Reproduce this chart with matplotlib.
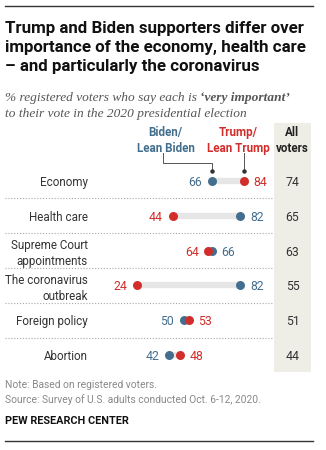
import matplotlib
matplotlib.use('Agg')
import matplotlib.pyplot as plt
import matplotlib.transforms as mtransforms
from matplotlib.lines import Line2D

# data
categories = ['Economy', 'Health care', 'Supreme Court\nappointments',
              'The coronavirus\noutbreak', 'Foreign policy', 'Abortion']
biden = [66, 82, 66, 82, 50, 42]
trump = [84, 44, 64, 24, 53, 48]
all_voters = [74, 65, 63, 55, 51, 44]

BLUE = '#436E8E'
RED = '#D12E2B'
BAR = '#E6E6E6'
BAND = '#EEEDE6'
SANS = 'Roboto'
SERIF = 'Liberation Serif'

W, H = 326, 450
fig = plt.figure(figsize=(W / 100, H / 100), dpi=100)


def fx(px):
    return px / W


def fy(py):
    return 1 - py / H


# main dot plot area
ax = fig.add_axes([fx(94.5), fy(372), fx(272.5) - fx(94.5), fy(123) - fy(372)])
rows = list(range(len(categories)))
ax.set_xlim(0, 100)
ax.set_ylim(5.49, -1.667)
ax.set_frame_on(False)
ax.set_xticks([])
ax.set_yticks(rows, categories)
ax.tick_params(axis='y', length=0, pad=4.7, labelsize=8.4, labelcolor='#333333')
for lab in ax.get_yticklabels():
    lab.set_family(SANS)
    lab.set_linespacing(1.3)

lo = [min(b, t) for b, t in zip(biden, trump)]
hi = [max(b, t) for b, t in zip(biden, trump)]
ax.hlines(rows, lo, hi, color=BAR, lw=4.5, capstyle='butt', zorder=1)
ax.scatter(biden, rows, s=42, color=BLUE, zorder=3, linewidths=0)
ax.scatter(trump, rows, s=42, color=RED, zorder=4, linewidths=0)

for r, b, t in zip(rows, biden, trump):
    for v, c in ((b, BLUE), (t, RED)):
        left = v < (t if c == BLUE else b)
        ax.annotate(str(v), (v, r), xytext=(-7 if left else 7, 0),
                    textcoords='offset points', ha='right' if left else 'left',
                    va='center_baseline', color=c, fontsize=8.8, family=SANS)

# headers with leader lines
ax.text(39.9, -1.17, 'Biden/\nLean Biden', ha='center', va='center', color=BLUE,
        fontsize=8.4, weight='bold', family=SANS, linespacing=1.3)
ax.text(80.6, -1.17, 'Trump/\nLean Trump', ha='center', va='center', color=RED,
        fontsize=8.4, weight='bold', family=SANS, linespacing=1.3)
ax.plot([38.5, 38.5, biden[0], biden[0]], [-0.80, -0.52, -0.52, -0.29],
        color='#555555', lw=0.7, clip_on=False)
ax.plot([trump[0], trump[0]], [-0.80, -0.29], color='#555555', lw=0.7, clip_on=False)
ax.plot([biden[0], trump[0]], [-0.29, -0.29], ls='none', marker='o', ms=2.2,
        color='#333333', clip_on=False)

# dotted row separators
trans = mtransforms.blended_transform_factory(fig.transFigure, ax.transData)
for r in rows[:-1]:
    ax.plot([fx(5), fx(274)], [r + 0.5, r + 0.5], transform=trans, color='#A8A8A8',
            lw=0.8, ls=(0, (1, 1.6)), clip_on=False)

# all voters column
ax2 = fig.add_axes([fx(274), fy(372), fx(311) - fx(274), fy(123) - fy(372)])
ax2.set_facecolor(BAND)
ax2.set_xlim(0, 1)
ax2.set_ylim(5.49, -1.667)
ax2.set_xticks([])
ax2.set_yticks([])
for s in ax2.spines.values():
    s.set_visible(False)
ax2.text(0.5, -1.17, 'All\nvoters', ha='center', va='center', fontsize=8.4,
         weight='bold', family=SANS, color='#222222', linespacing=1.3)
for r, v in zip(rows, all_voters):
    ax2.text(0.5, r, str(v), ha='center', va='center_baseline', fontsize=8.8,
             family=SANS, color='#333333')

# title and subtitle
fig.text(fx(5), fy(21.5), 'Trump and Biden supporters differ over\n'
         'importance of the economy, health care\n'
         '\u2013 and particularly the coronavirus',
         ha='left', va='top', fontsize=12.2, weight='bold', family=SANS,
         color='#111111', linespacing=1.3)

sub_kw = dict(fontsize=9.6, family=SERIF, style='italic',
              color='#555555', va='baseline', ha='left')
t1 = fig.text(fx(5), fy(101.5), '% registered voters who say each is ', **sub_kw)
fig.canvas.draw()
bb = t1.get_window_extent()
fig.text(bb.x1 / W, fy(101.5), '\u2018very important\u2019', weight='bold', **sub_kw)
fig.text(fx(5), fy(116.5), 'to their vote in the 2020 presidential election', **sub_kw)

# footer
fig.text(fx(5), fy(388), 'Note: Based on registered voters.', fontsize=7.4,
         family=SANS, color='#888888', va='baseline')
fig.text(fx(5), fy(403), 'Source: Survey of U.S. adults conducted Oct. 6-12, 2020.',
         fontsize=7.4, family=SANS, color='#888888', va='baseline')
fig.text(fx(5), fy(423.5), 'PEW RESEARCH CENTER', fontsize=7.8, weight='bold',
         family=SANS, color='#111111', va='baseline')

# top and bottom rules
for py in (6, 441):
    fig.add_artist(Line2D([fx(5), fx(313)], [fy(py), fy(py)], color='#333333', lw=1))

fig.savefig('out.png', dpi=100)
